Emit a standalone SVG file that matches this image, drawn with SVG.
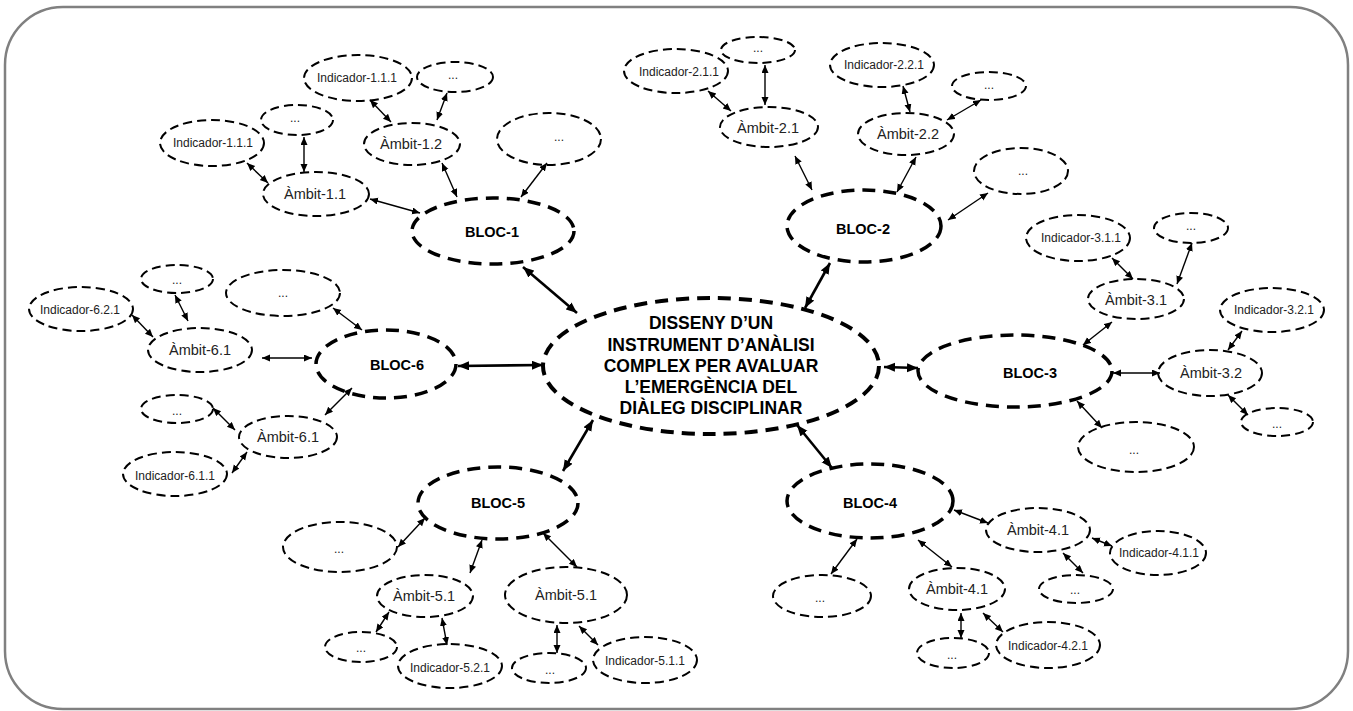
<svg xmlns="http://www.w3.org/2000/svg" width="1353" height="711" viewBox="0 0 1353 711">
  <style>
    .frame { fill: #ffffff; stroke: #808080; stroke-width: 2.5; }
    .core { fill: none; stroke: #000; stroke-width: 4; stroke-dasharray: 13 8; }
    .bloc { fill: none; stroke: #000; stroke-width: 3.5; stroke-dasharray: 13 8; }
    .leaf { fill: none; stroke: #000; stroke-width: 2; stroke-dasharray: 9 5; }
    .t { font-family: "Liberation Sans", Arial, sans-serif; text-anchor: middle; dominant-baseline: central; fill: #222; }
    .tc { font-size: 17.5px; font-weight: bold; fill: #000; }
    .tb { font-size: 14.5px; font-weight: bold; fill: #000; }
    .ta { font-size: 14.5px; }
    .ti { font-size: 12px; }
    .td { font-size: 12px; }
    .ln { stroke: #000; stroke-width: 1.4; fill: none; marker-start: url(#hs); marker-end: url(#hs); }
    .lk { stroke: #000; stroke-width: 2.6; fill: none; marker-start: url(#hl); marker-end: url(#hl); }
  </style>
  <defs>
    <marker id="hs" markerUnits="userSpaceOnUse" markerWidth="9" markerHeight="8" refX="8" refY="3.5" orient="auto-start-reverse">
      <path d="M0,0 L8,3.5 L0,7 z" fill="#000"/>
    </marker>
    <marker id="hl" markerUnits="userSpaceOnUse" markerWidth="12" markerHeight="10" refX="11" refY="4.5" orient="auto-start-reverse">
      <path d="M0,0 L11,4.5 L0,9 z" fill="#000"/>
    </marker>
  </defs>

  <rect class="frame" x="5" y="7" width="1343" height="702" rx="58" ry="58"/>

  <!-- connectors -->
  <g id="connectors">
    <!-- centre to blocks -->
    <line class="lk" x1="523" y1="267" x2="577" y2="313"/>
    <line class="lk" x1="830" y1="263" x2="805" y2="308"/>
    <line class="lk" x1="884" y1="367" x2="918" y2="368"/>
    <line class="lk" x1="797" y1="425" x2="832" y2="468"/>
    <line class="lk" x1="593" y1="420" x2="563" y2="471"/>
    <line class="lk" x1="458" y1="366" x2="543" y2="365"/>
    <!-- block 1 -->
    <line class="ln" x1="370" y1="199" x2="420" y2="213"/>
    <line class="ln" x1="442" y1="163" x2="457" y2="197"/>
    <line class="ln" x1="547" y1="163" x2="521" y2="197"/>
    <line class="ln" x1="247" y1="163" x2="268" y2="183"/>
    <line class="ln" x1="304" y1="137" x2="304" y2="172"/>
    <line class="ln" x1="370" y1="100" x2="391" y2="122"/>
    <line class="ln" x1="447" y1="93" x2="437" y2="120"/>
    <!-- block 2 -->
    <line class="ln" x1="795" y1="156" x2="812" y2="190"/>
    <line class="ln" x1="916" y1="157" x2="897" y2="192"/>
    <line class="ln" x1="988" y1="193" x2="948" y2="220"/>
    <line class="ln" x1="708" y1="91" x2="731" y2="111"/>
    <line class="ln" x1="765" y1="65" x2="765" y2="105"/>
    <line class="ln" x1="903" y1="86" x2="910" y2="112"/>
    <line class="ln" x1="981" y1="100" x2="947" y2="120"/>
    <!-- block 3 -->
    <line class="ln" x1="1112" y1="258" x2="1133" y2="279"/>
    <line class="ln" x1="1192" y1="243" x2="1177" y2="284"/>
    <line class="ln" x1="1112" y1="322" x2="1083" y2="345"/>
    <line class="ln" x1="1113" y1="373" x2="1160" y2="373"/>
    <line class="ln" x1="1242" y1="331" x2="1228" y2="350"/>
    <line class="ln" x1="1228" y1="395" x2="1248" y2="415"/>
    <line class="ln" x1="1077" y1="401" x2="1102" y2="428"/>
    <!-- block 4 -->
    <line class="ln" x1="954" y1="510" x2="988" y2="523"/>
    <line class="ln" x1="1092" y1="538" x2="1112" y2="546"/>
    <line class="ln" x1="1063" y1="553" x2="1083" y2="573"/>
    <line class="ln" x1="857" y1="539" x2="831" y2="574"/>
    <line class="ln" x1="918" y1="540" x2="952" y2="567"/>
    <line class="ln" x1="961" y1="613" x2="961" y2="638"/>
    <line class="ln" x1="983" y1="613" x2="1003" y2="632"/>
    <!-- block 5 -->
    <line class="ln" x1="425" y1="518" x2="398" y2="547"/>
    <line class="ln" x1="482" y1="540" x2="470" y2="573"/>
    <line class="ln" x1="543" y1="533" x2="577" y2="567"/>
    <line class="ln" x1="389" y1="612" x2="376" y2="632"/>
    <line class="ln" x1="442" y1="618" x2="447" y2="645"/>
    <line class="ln" x1="557" y1="625" x2="557" y2="653"/>
    <line class="ln" x1="579" y1="626" x2="598" y2="645"/>
    <!-- block 6 -->
    <line class="ln" x1="262" y1="358" x2="312" y2="358"/>
    <line class="ln" x1="132" y1="315" x2="153" y2="337"/>
    <line class="ln" x1="175" y1="295" x2="188" y2="321"/>
    <line class="ln" x1="333" y1="308" x2="362" y2="330"/>
    <line class="ln" x1="352" y1="388" x2="325" y2="415"/>
    <line class="ln" x1="213" y1="408" x2="235" y2="430"/>
    <line class="ln" x1="232" y1="473" x2="247" y2="452"/>
  </g>

  <!-- central topic -->
  <g id="core">
    <ellipse class="core" cx="711" cy="366" rx="168" ry="68"/>
    <text class="t tc" x="711" y="323">DISSENY D’UN</text>
    <text class="t tc" x="711" y="345">INSTRUMENT D’ANÀLISI</text>
    <text class="t tc" x="711" y="366">COMPLEX PER AVALUAR</text>
    <text class="t tc" x="711" y="387">L’EMERGÈNCIA DEL</text>
    <text class="t tc" x="711" y="408">DIÀLEG DISCIPLINAR</text>
  </g>

  <!-- block 1 -->
  <g id="bloc-1"><ellipse class="bloc" cx="493" cy="231" rx="81" ry="33"/><text class="t tb" x="492" y="232">BLOC-1</text></g>
  <g id="ambit-1-1"><ellipse class="leaf" cx="316" cy="194" rx="53" ry="22"/><text class="t ta" x="315" y="194">Àmbit-1.1</text></g>
  <g id="ambit-1-2"><ellipse class="leaf" cx="412" cy="144" rx="48" ry="21"/><text class="t ta" x="411" y="144">Àmbit-1.2</text></g>
  <g id="ind-1-1-1a"><ellipse class="leaf" cx="212" cy="143" rx="52" ry="23"/><text class="t ti" x="213" y="143">Indicador-1.1.1</text></g>
  <g id="etc-1a"><ellipse class="leaf" cx="297" cy="120" rx="36" ry="15"/><text class="t td" x="295" y="118">...</text></g>
  <g id="ind-1-1-1b"><ellipse class="leaf" cx="358" cy="78" rx="54" ry="23"/><text class="t ti" x="357" y="78">Indicador-1.1.1</text></g>
  <g id="etc-1b"><ellipse class="leaf" cx="455" cy="77" rx="38" ry="15"/><text class="t td" x="453" y="75">...</text></g>
  <g id="etc-1c"><ellipse class="leaf" cx="549" cy="139" rx="52" ry="26"/><text class="t td" x="559" y="137">...</text></g>

  <!-- block 2 -->
  <g id="bloc-2"><ellipse class="bloc" cx="864" cy="226" rx="77" ry="36"/><text class="t tb" x="863" y="229">BLOC-2</text></g>
  <g id="ambit-2-1"><ellipse class="leaf" cx="769" cy="127" rx="49" ry="20"/><text class="t ta" x="768" y="128">Àmbit-2.1</text></g>
  <g id="ind-2-1-1"><ellipse class="leaf" cx="676" cy="71" rx="52" ry="22"/><text class="t ti" x="679" y="72">Indicador-2.1.1</text></g>
  <g id="etc-2a"><ellipse class="leaf" cx="758" cy="50" rx="37" ry="13"/><text class="t td" x="758" y="48">...</text></g>
  <g id="ambit-2-2"><ellipse class="leaf" cx="906" cy="134" rx="48" ry="21"/><text class="t ta" x="908" y="134">Àmbit-2.2</text></g>
  <g id="ind-2-2-1"><ellipse class="leaf" cx="882" cy="65" rx="52" ry="22"/><text class="t ti" x="884" y="65">Indicador-2.2.1</text></g>
  <g id="etc-2b"><ellipse class="leaf" cx="989" cy="86" rx="37" ry="14"/><text class="t td" x="989" y="85">...</text></g>
  <g id="etc-2c"><ellipse class="leaf" cx="1021" cy="171" rx="47" ry="23"/><text class="t td" x="1023" y="171">...</text></g>

  <!-- block 3 -->
  <g id="bloc-3"><ellipse class="bloc" cx="1015" cy="371" rx="97" ry="36"/><text class="t tb" x="1030" y="373">BLOC-3</text></g>
  <g id="ambit-3-1"><ellipse class="leaf" cx="1136" cy="299" rx="48" ry="20"/><text class="t ta" x="1136" y="300">Àmbit-3.1</text></g>
  <g id="ind-3-1-1"><ellipse class="leaf" cx="1078" cy="238" rx="52" ry="23"/><text class="t ti" x="1081" y="238">Indicador-3.1.1</text></g>
  <g id="etc-3a"><ellipse class="leaf" cx="1191" cy="228" rx="37" ry="15"/><text class="t td" x="1191" y="226">...</text></g>
  <g id="ambit-3-2"><ellipse class="leaf" cx="1210" cy="373" rx="52" ry="23"/><text class="t ta" x="1211" y="373">Àmbit-3.2</text></g>
  <g id="ind-3-2-1"><ellipse class="leaf" cx="1272" cy="310" rx="52" ry="22"/><text class="t ti" x="1274" y="310">Indicador-3.2.1</text></g>
  <g id="etc-3b"><ellipse class="leaf" cx="1277" cy="422" rx="36" ry="14"/><text class="t td" x="1277" y="424">...</text></g>
  <g id="etc-3c"><ellipse class="leaf" cx="1136" cy="447" rx="58" ry="25"/><text class="t td" x="1134" y="450">...</text></g>

  <!-- block 4 -->
  <g id="bloc-4"><ellipse class="bloc" cx="870" cy="501" rx="83" ry="37"/><text class="t tb" x="870" y="503">BLOC-4</text></g>
  <g id="ambit-4-1a"><ellipse class="leaf" cx="1038" cy="530" rx="52" ry="22"/><text class="t ta" x="1038" y="530">Àmbit-4.1</text></g>
  <g id="ind-4-1-1"><ellipse class="leaf" cx="1158" cy="553" rx="48" ry="22"/><text class="t ti" x="1159" y="553">Indicador-4.1.1</text></g>
  <g id="etc-4a"><ellipse class="leaf" cx="1076" cy="589" rx="37" ry="14"/><text class="t td" x="1075" y="590">...</text></g>
  <g id="ambit-4-1b"><ellipse class="leaf" cx="957" cy="589" rx="48" ry="21"/><text class="t ta" x="957" y="589">Àmbit-4.1</text></g>
  <g id="etc-4b"><ellipse class="leaf" cx="822" cy="596" rx="49" ry="21"/><text class="t td" x="820" y="598">...</text></g>
  <g id="etc-4c"><ellipse class="leaf" cx="953" cy="653" rx="36" ry="15"/><text class="t td" x="952" y="655">...</text></g>
  <g id="ind-4-2-1"><ellipse class="leaf" cx="1048" cy="645" rx="52" ry="23"/><text class="t ti" x="1048" y="646">Indicador-4.2.1</text></g>

  <!-- block 5 -->
  <g id="bloc-5"><ellipse class="bloc" cx="498" cy="503" rx="80" ry="36"/><text class="t tb" x="498" y="503">BLOC-5</text></g>
  <g id="etc-5a"><ellipse class="leaf" cx="340" cy="547" rx="57" ry="25"/><text class="t td" x="339" y="549">...</text></g>
  <g id="ambit-5-1a"><ellipse class="leaf" cx="425" cy="596" rx="48" ry="21"/><text class="t ta" x="424" y="596">Àmbit-5.1</text></g>
  <g id="ambit-5-1b"><ellipse class="leaf" cx="566" cy="595" rx="61" ry="28"/><text class="t ta" x="566" y="595">Àmbit-5.1</text></g>
  <g id="etc-5b"><ellipse class="leaf" cx="361" cy="647" rx="36" ry="15"/><text class="t td" x="361" y="648">...</text></g>
  <g id="ind-5-2-1"><ellipse class="leaf" cx="450" cy="666" rx="52" ry="22"/><text class="t ti" x="450" y="668">Indicador-5.2.1</text></g>
  <g id="etc-5c"><ellipse class="leaf" cx="549" cy="668" rx="37" ry="15"/><text class="t td" x="550" y="670">...</text></g>
  <g id="ind-5-1-1"><ellipse class="leaf" cx="645" cy="660" rx="52" ry="23"/><text class="t ti" x="645" y="661">Indicador-5.1.1</text></g>

  <!-- block 6 -->
  <g id="bloc-6"><ellipse class="bloc" cx="386" cy="364" rx="70" ry="34"/><text class="t tb" x="397" y="365">BLOC-6</text></g>
  <g id="ambit-6-1a"><ellipse class="leaf" cx="200" cy="350" rx="52" ry="22"/><text class="t ta" x="200" y="350">Àmbit-6.1</text></g>
  <g id="ind-6-2-1"><ellipse class="leaf" cx="81" cy="309" rx="52" ry="22"/><text class="t ti" x="80" y="310">Indicador-6.2.1</text></g>
  <g id="etc-6a"><ellipse class="leaf" cx="177" cy="279" rx="36" ry="14"/><text class="t td" x="177" y="280">...</text></g>
  <g id="etc-6b"><ellipse class="leaf" cx="283" cy="293" rx="57" ry="23"/><text class="t td" x="283" y="293">...</text></g>
  <g id="ambit-6-1b"><ellipse class="leaf" cx="288" cy="437" rx="49" ry="21"/><text class="t ta" x="288" y="437">Àmbit-6.1</text></g>
  <g id="etc-6c"><ellipse class="leaf" cx="177" cy="409" rx="36" ry="14"/><text class="t td" x="177" y="411">...</text></g>
  <g id="ind-6-1-1"><ellipse class="leaf" cx="175" cy="474" rx="52" ry="22"/><text class="t ti" x="175" y="476">Indicador-6.1.1</text></g>
</svg>
